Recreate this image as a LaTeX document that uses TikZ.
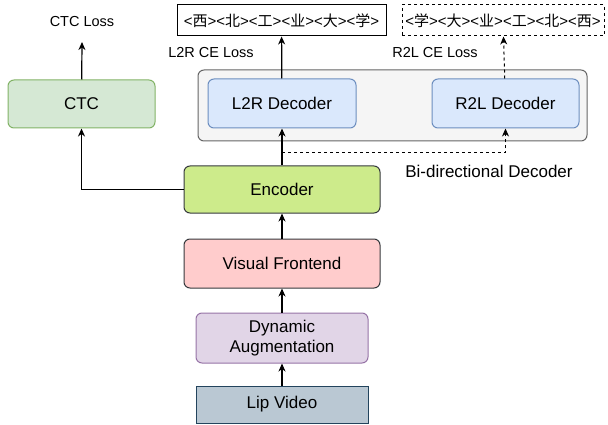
\documentclass[tikz,border=0pt]{standalone}
\usepackage{fontspec}
\setmainfont{Liberation Sans}
\newfontfamily\lblfont{Liberation Sans}
\newfontfamily\cjk{Noto Sans CJK SC}
\usetikzlibrary{arrows.meta}
\usepackage{xcolor}
\definecolor{ctcfill}{HTML}{D5E8D4}
\definecolor{ctcline}{HTML}{82B366}
\definecolor{decfill}{HTML}{DAE8FC}
\definecolor{decline}{HTML}{6C8EBF}
\definecolor{grpfill}{HTML}{F5F5F5}
\definecolor{grpline}{HTML}{666666}
\definecolor{encfill}{HTML}{CDEB8B}
\definecolor{darkline}{HTML}{36393D}
\definecolor{vffill}{HTML}{FFCCCC}
\definecolor{augfill}{HTML}{E1D5E7}
\definecolor{augline}{HTML}{9673A6}
\definecolor{lipfill}{HTML}{BAC8D3}
\definecolor{lipline}{HTML}{23445D}
\newcommand{\zh}[1]{<{\cjk #1}>}
\tikzset{
 blk/.style={draw, line width=1pt, rounded corners=6pt, inner sep=0pt, align=center, font=\fontsize{17}{19.5}\selectfont},
 outbox/.style={draw, line width=1pt, inner sep=0pt, font=\lblfont\fontsize{15}{17}\selectfont},
 lbl/.style={inner sep=0pt, font=\lblfont\fontsize{14.5}{17}\selectfont},
 dsh/.style={dash pattern=on 3pt off 3pt},
}
\begin{document}
\begin{tikzpicture}[x=1pt, y=-1pt, >={Stealth[length=8pt,width=7pt,inset=2.5pt]}]
\useasboundingbox (0,0) rectangle (608,425);
% bi-directional decoder group
\node[blk, fill=grpfill, draw=grpline, minimum width=389pt, minimum height=71pt] (bidec) at (392.5,105.5) {};
\node[blk, fill=decfill, draw=decline, minimum width=148pt, minimum height=49pt] (l2r) at (282,103.5) {L2R Decoder};
\node[blk, fill=decfill, draw=decline, minimum width=147pt, minimum height=49pt] (r2l) at (505.5,103.5) {R2L Decoder};
% outputs
\node[outbox, minimum width=209pt, minimum height=31pt] (l2rout) at (281.5,20.5) {\zh{西}\zh{北}\zh{工}\zh{业}\zh{大}\zh{学}};
\node[outbox, dsh, minimum width=202pt, minimum height=31pt] (r2lout) at (503,20.5) {\zh{学}\zh{大}\zh{业}\zh{工}\zh{北}\zh{西}};
\node[lbl] (l2rloss) at (211,53) {L2R CE Loss};
\node[lbl] (r2lloss) at (435,53) {R2L CE Loss};
\node[lbl, font=\fontsize{17}{19}\selectfont] (bilbl) at (489,171) {Bi-directional Decoder};
% ctc branch
\node[blk, fill=ctcfill, draw=ctcline, minimum width=147pt, minimum height=48pt] (ctc) at (81.5,104) {CTC};
\node[lbl] (ctcloss) at (82,22) {CTC Loss};
\coordinate (ctctip) at (82,42);
% main stack
\node[blk, fill=encfill, draw=darkline, minimum width=196pt, minimum height=47pt] (enc) at (282,189.5) {Encoder};
\node[blk, fill=vffill, draw=darkline, minimum width=196pt, minimum height=49pt] (vf) at (282,263.5) {Visual Frontend};
\node[blk, fill=augfill, draw=augline, minimum width=172pt, minimum height=50pt] (aug) at (282,338) {Dynamic\\Augmentation};
\node[blk, rounded corners=0pt, fill=lipfill, draw=lipline, minimum width=172pt, minimum height=37pt] (lip) at (282,404.5) {\raisebox{-1pt}{Lip Video}};
\coordinate (split) at (282,153);
% connectors
\draw[->, line width=1.8pt] (lip) -- (aug);
\draw[->, line width=1.8pt] (aug) -- (vf);
\draw[->, line width=1.2pt] (vf) -- (enc);
\draw[->, line width=1.2pt] (enc) -- (l2r);
\draw[->, line width=1pt, dsh] (split) -| (r2l.south);
\draw[->, line width=1.2pt] (enc.west) -| (ctc.south);
\draw[->, line width=1.2pt] (ctc) -- (ctctip);
\draw[->, line width=1.2pt] (l2r) -- (l2rout);
\draw[->, line width=1pt, dsh] (r2l) -- (r2lout);
\end{tikzpicture}
\end{document}
